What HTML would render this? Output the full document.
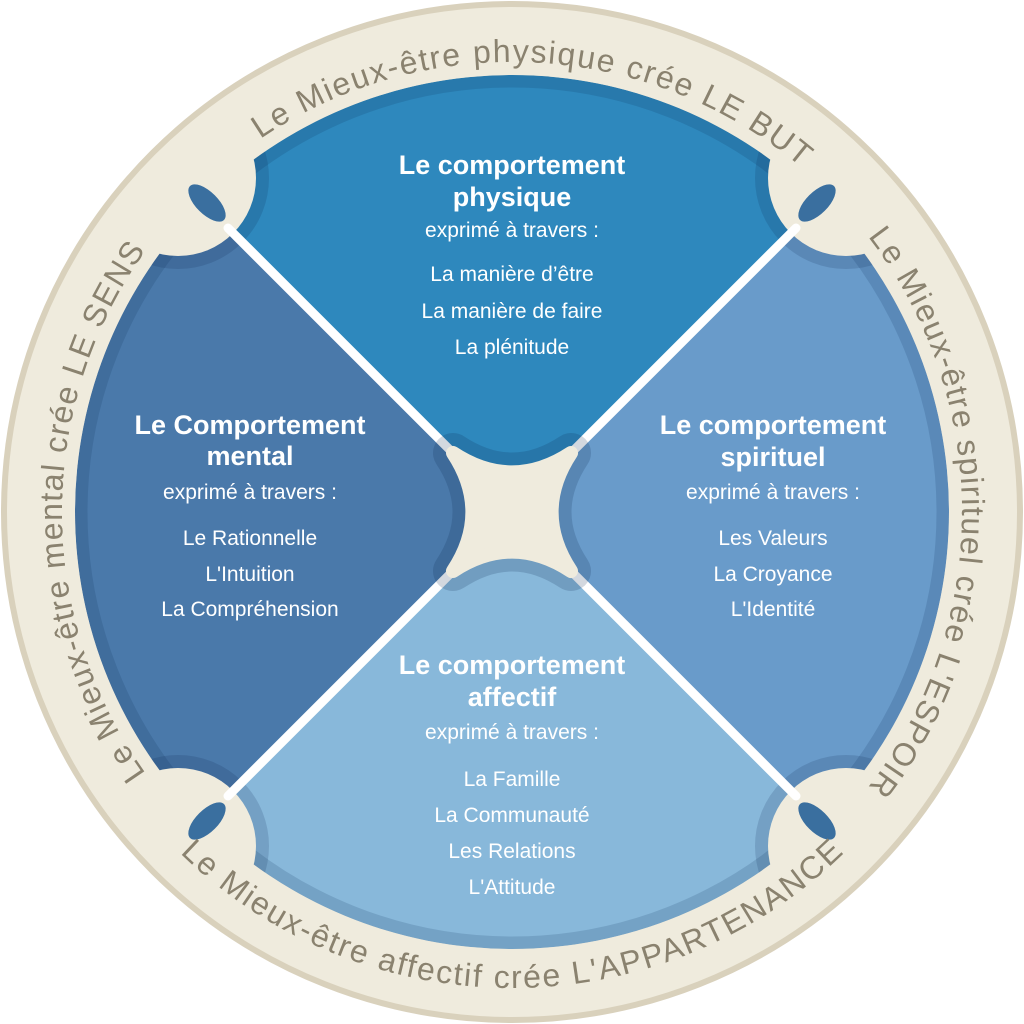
<!DOCTYPE html>
<html><head><meta charset="utf-8"><style>
html,body{margin:0;padding:0;background:#fff;}
svg{display:block;}
.ring{font-family:"Liberation Sans Narrow","Liberation Sans",sans-serif;font-size:32px;fill:#8a826f;}
.t{font-family:"Liberation Sans Narrow","Liberation Sans",sans-serif;fill:#fff;text-anchor:middle;}
.h{font-size:27px;font-weight:bold;}
.s{font-size:21px;}
</style></head><body>
<svg width="1024" height="1024" viewBox="0 0 1024 1024" xmlns="http://www.w3.org/2000/svg">
<defs>
<path id="pTop" d="M62.6,488.5 A450,450 0 0 1 961.4,535.5"/>
<path id="pRight" d="M512,62 A450,450 0 0 1 512,962"/>
<path id="pLeft" d="M512,962 A450,450 0 0 1 512,62"/>
<path id="pBot" d="M36,512 A476,476 0 0 0 988,512"/>
<clipPath id="inner"><circle cx="512" cy="512" r="437"/></clipPath>
<clipPath id="outer"><circle cx="512" cy="512" r="505"/></clipPath>
</defs>
<circle cx="512" cy="512" r="508" fill="#efebdd" stroke="#d9d1bc" stroke-width="6"/>
<g clip-path="url(#inner)">
<path d="M512,512 L203,203 A437,437 0 0 1 821,203 Z" fill="#2e88bd"/>
<path d="M512,512 L821,203 A437,437 0 0 1 821,821 Z" fill="#699bca"/>
<path d="M512,512 L821,821 A437,437 0 0 1 203,821 Z" fill="#88b8da"/>
<path d="M512,512 L203,821 A437,437 0 0 1 203,203 Z" fill="#4a79aa"/>
<circle cx="512" cy="512" r="431" fill="none" stroke="rgba(10,40,80,0.15)" stroke-width="13"/>
<g fill="none" stroke="rgba(10,40,80,0.16)" stroke-width="26">
<circle cx="178" cy="178" r="78"/><circle cx="846" cy="178" r="78"/>
<circle cx="178" cy="846" r="78"/><circle cx="846" cy="846" r="78"/>
</g>
</g>
<g fill="#efebdd" clip-path="url(#outer)">
<circle cx="178" cy="178" r="78"/><circle cx="846" cy="178" r="78"/>
<circle cx="178" cy="846" r="78"/><circle cx="846" cy="846" r="78"/>
</g>
<g fill="#3a6f9f">
<ellipse cx="207" cy="203" rx="24" ry="11" transform="rotate(45 207 203)"/>
<ellipse cx="817" cy="203" rx="24" ry="11" transform="rotate(-45 817 203)"/>
<ellipse cx="207" cy="821" rx="24" ry="11" transform="rotate(-45 207 821)"/>
<ellipse cx="817" cy="821" rx="24" ry="11" transform="rotate(45 817 821)"/>
</g>
<g stroke="#fff" stroke-width="9" stroke-linecap="round">
<line x1="228" y1="228" x2="450" y2="450"/><line x1="796" y1="228" x2="574" y2="450"/>
<line x1="228" y1="796" x2="450" y2="574"/><line x1="796" y1="796" x2="574" y2="574"/>
</g>
<path d="M453,453 Q512,492 571,453 Q532,512 571,571 Q512,532 453,571 Q492,512 453,453 Z" fill="rgba(10,40,80,0.18)" stroke="rgba(10,40,80,0.18)" stroke-width="40" stroke-linejoin="round"/>
<path d="M453,453 Q512,492 571,453 Q532,512 571,571 Q512,532 453,571 Q492,512 453,453 Z" fill="#efebdd" stroke="#efebdd" stroke-width="14" stroke-linejoin="round"/>
<text class="ring"><textPath href="#pTop" startOffset="50%" text-anchor="middle" textLength="581" lengthAdjust="spacing">Le Mieux-être physique crée LE BUT</textPath></text>
<text class="ring"><textPath href="#pRight" startOffset="50%" text-anchor="middle" textLength="593" lengthAdjust="spacing">Le Mieux-être spirituel crée L'ESPOIR</textPath></text>
<text class="ring"><textPath href="#pLeft" startOffset="50%" text-anchor="middle" textLength="558" lengthAdjust="spacing">Le Mieux-être mental crée LE SENS</textPath></text>
<text class="ring"><textPath href="#pBot" startOffset="50%" text-anchor="middle" textLength="735" lengthAdjust="spacing">Le Mieux-être affectif crée L'APPARTENANCE</textPath></text>
<g class="t">
<text class="h" x="512" y="174">Le comportement</text>
<text class="h" x="512" y="206">physique</text>
<text class="s" x="512" y="237">exprimé à travers :</text>
<text class="s" x="512" y="281">La manière d’être</text>
<text class="s" x="512" y="318">La manière de faire</text>
<text class="s" x="512" y="354">La plénitude</text>

<text class="h" x="250" y="434">Le Comportement</text>
<text class="h" x="250" y="465">mental</text>
<text class="s" x="250" y="499">exprimé à travers :</text>
<text class="s" x="250" y="545">Le Rationnelle</text>
<text class="s" x="250" y="581">L'Intuition</text>
<text class="s" x="250" y="616">La Compréhension</text>

<text class="h" x="773" y="434">Le comportement</text>
<text class="h" x="773" y="466">spirituel</text>
<text class="s" x="773" y="499">exprimé à travers :</text>
<text class="s" x="773" y="545">Les Valeurs</text>
<text class="s" x="773" y="581">La Croyance</text>
<text class="s" x="773" y="616">L'Identité</text>

<text class="h" x="512" y="674">Le comportement</text>
<text class="h" x="512" y="706">affectif</text>
<text class="s" x="512" y="739">exprimé à travers :</text>
<text class="s" x="512" y="786">La Famille</text>
<text class="s" x="512" y="822">La Communauté</text>
<text class="s" x="512" y="858">Les Relations</text>
<text class="s" x="512" y="894">L'Attitude</text>
</g>
</svg>
</body></html>
